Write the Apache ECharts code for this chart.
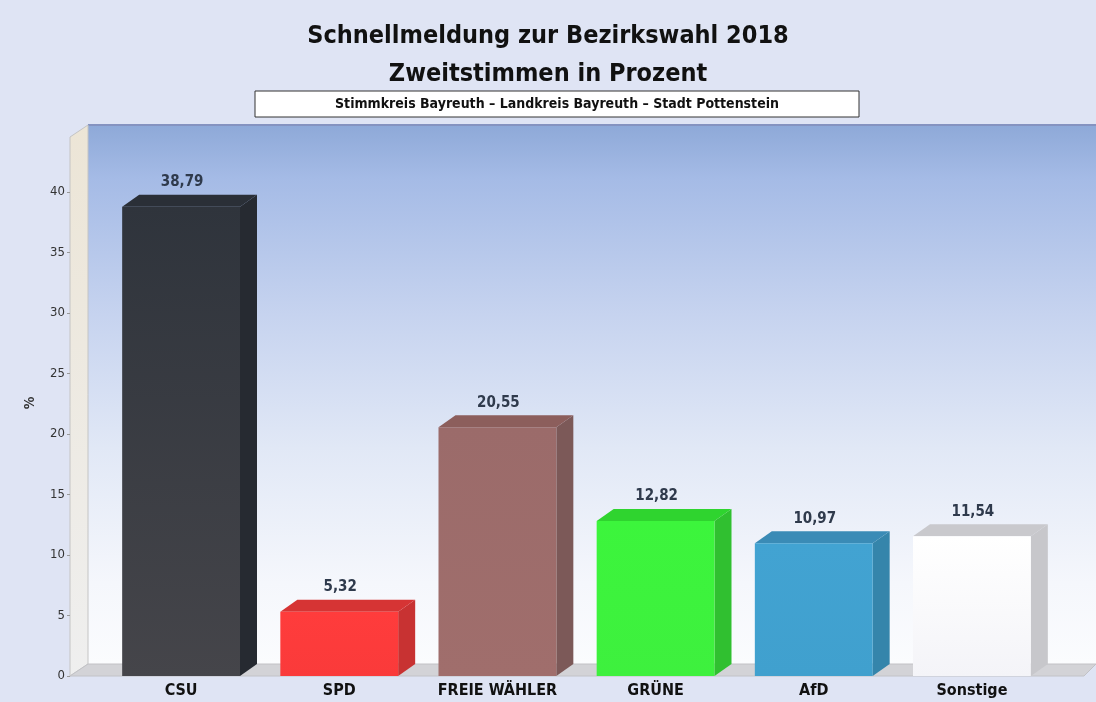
<!DOCTYPE html>
<html lang="de" style="height:100%">
  <head>
    <meta http-equiv="Content-Type" content="text/html; charset=utf-8">
    <title>Schnellmeldung zur Bezirkswahl 2018</title>
    <script type="text/javascript" src="https://cdn.jsdelivr.net/npm/echarts@6/dist/echarts.min.js"></script>
    <style>
      html, body { margin:0; padding:0; background:#dfe4f4; }
      #chart { width:1096px; height:702px; }
    </style>
  </head>
  <body>
    <div id="chart"></div>
    <script type="text/javascript">
      // Parteien und Ergebnisse (Zweitstimmen in %)
      var parties = ['CSU', 'SPD', 'FREIE WÄHLER', 'GRÜNE', 'AfD', 'Sonstige'];
      var shares = [38.79, 5.32, 20.55, 12.82, 10.97, 11.54];
      var yTicks = [0, 5, 10, 15, 20, 25, 30, 35, 40];

      // Farben je Partei: Vorderseite oben/unten, Seite, Deckel
      var FRONT_TOP = ['#2f343c', '#ff3c3c', '#9b6b6a', '#3cf53c', '#42a3d2', '#ffffff'];
      var FRONT_BOT = ['#45454a', '#fa3a3a', '#a06e6c', '#3ef03e', '#40a0ce', '#f4f4f8'];
      var SIDE = ['#262a31', '#c83232', '#7c5958', '#30c030', '#3585ab', '#c7c7cb'];
      var TOPF = ['#2a2f37', '#d63434', '#8c5e5c', '#2fd42f', '#3a8bb6', '#c9c9cd'];

      var FONT = "'Liberation Sans Narrow', 'DejaVu Sans Condensed', 'Arial Narrow', sans-serif";
      var DX = 17, DY = -12;

      function fmt(v){
        return v.toFixed(2).replace('.', ',');
      }

      var chart = echarts.init(document.getElementById('chart'));

      var option = {
        backgroundColor: '#dfe4f4',
        animation: false,
        title: [
          {
            text: 'Schnellmeldung zur Bezirkswahl 2018',
            left: 'center', top: 19,
            textStyle: { fontFamily: FONT, fontSize: 25, fontWeight: 'bold', color: '#111' }
          },
          {
            text: 'Zweitstimmen in Prozent',
            left: 'center', top: 57,
            textStyle: { fontFamily: FONT, fontSize: 25, fontWeight: 'bold', color: '#111' }
          }
        ],
        graphic: [
          // Rückwand
          {
            type: 'rect', z: -10,
            shape: { x: 88, y: 125, width: 1008, height: 539 },
            style: {
              fill: new echarts.graphic.LinearGradient(0, 0, 0, 1, [
                { offset: 0, color: '#8ea9d8' },
                { offset: 0.1, color: '#a5bbe6' },
                { offset: 0.35, color: '#c6d3ef' },
                { offset: 0.6, color: '#e1e8f6' },
                { offset: 0.85, color: '#f5f7fc' },
                { offset: 1, color: '#fbfcfe' }
              ])
            }
          },
          {
            type: 'line', z: -9,
            shape: { x1: 88, y1: 125, x2: 1096, y2: 125 },
            style: { stroke: '#8593c0', lineWidth: 2 }
          },
          // linke Wand
          {
            type: 'polygon', z: -8,
            shape: { points: [[70, 137], [88, 125], [88, 664], [70, 676]] },
            style: {
              fill: new echarts.graphic.LinearGradient(0, 0, 0, 1, [
                { offset: 0, color: '#ece5d6' },
                { offset: 1, color: '#efefef' }
              ]),
              stroke: '#c4c4c4', lineWidth: 1
            }
          },
          // Boden
          {
            type: 'polygon', z: -8,
            shape: { points: [[70, 676], [88, 664], [1096, 664], [1084, 676]] },
            style: { fill: '#d3d3d7', stroke: '#c2c2c6', lineWidth: 1 }
          },
          // Achsentitel
          {
            type: 'text', z: 6,
            x: 30, y: 403, rotation: Math.PI / 2,
            style: {
              text: '%',
              font: 'bold 14px ' + FONT,
              fill: '#333',
              align: 'center',
              verticalAlign: 'middle'
            }
          },
          // Untertitel-Box
          {
            type: 'rect', z: 5,
            shape: { x: 255, y: 91, width: 604, height: 26 },
            style: { fill: '#ffffff', stroke: '#333333', lineWidth: 1 }
          },
          {
            type: 'text', z: 6,
            x: 557, y: 104,
            style: {
              text: 'Stimmkreis Bayreuth – Landkreis Bayreuth – Stadt Pottenstein',
              font: 'bold 14px ' + FONT,
              fill: '#111',
              align: 'center',
              verticalAlign: 'middle'
            }
          }
        ],
        grid: {
          left: 102, right: 45, top: 192, bottom: 26
        },
        xAxis: {
          type: 'category',
          data: parties,
          axisLine: { show: false },
          axisTick: { show: false },
          axisLabel: {
            margin: 7,
            fontFamily: FONT, fontSize: 16, fontWeight: 'bold', color: '#111'
          }
        },
        yAxis: {
          type: 'value',
          min: 0, max: 40, interval: 5,
          offset: 32,
          axisLine: { show: false },
          axisTick: { show: true, length: 3, lineStyle: { color: '#999' } },
          splitLine: { show: false },
          axisLabel: {
            margin: 5,
            fontFamily: FONT, fontSize: 13, color: '#333',
            formatter: function(v){
              return yTicks.indexOf(v) >= 0 ? String(v) : '';
            }
          }
        },
        series: [{
          type: 'custom',
          clip: false,
          data: shares.map(function(v, i){ return [i, v]; }),
          renderItem: function(params, api){
            var i = params.dataIndex;
            var v = api.value(1);
            var top = api.coord([api.value(0), v]);
            var base = api.coord([api.value(0), 0]);
            var w = api.size([1, 0])[0] * 0.745;
            var x0 = top[0] - w / 2, x1 = top[0] + w / 2;
            return {
              type: 'group',
              children: [
                {
                  type: 'polygon',
                  shape: { points: [[x1, top[1]], [x1 + DX, top[1] + DY], [x1 + DX, base[1] + DY], [x1, base[1]]] },
                  style: { fill: SIDE[i] }
                },
                {
                  type: 'polygon',
                  shape: { points: [[x0, top[1]], [x0 + DX, top[1] + DY], [x1 + DX, top[1] + DY], [x1, top[1]]] },
                  style: { fill: TOPF[i] }
                },
                {
                  type: 'rect',
                  shape: { x: x0, y: top[1], width: w, height: base[1] - top[1] },
                  style: {
                    fill: new echarts.graphic.LinearGradient(0, 0, 0, 1, [
                      { offset: 0, color: FRONT_TOP[i] },
                      { offset: 1, color: FRONT_BOT[i] }
                    ])
                  }
                },
                {
                  type: 'text',
                  x: top[0] + 1, y: top[1] + DY - 5,
                  style: {
                    text: fmt(v),
                    font: 'bold 15px ' + FONT,
                    fill: '#2f3a4c',
                    align: 'center',
                    verticalAlign: 'bottom'
                  }
                }
              ]
            };
          }
        }]
      };

      chart.setOption(option);
    </script>
  </body>
</html>
